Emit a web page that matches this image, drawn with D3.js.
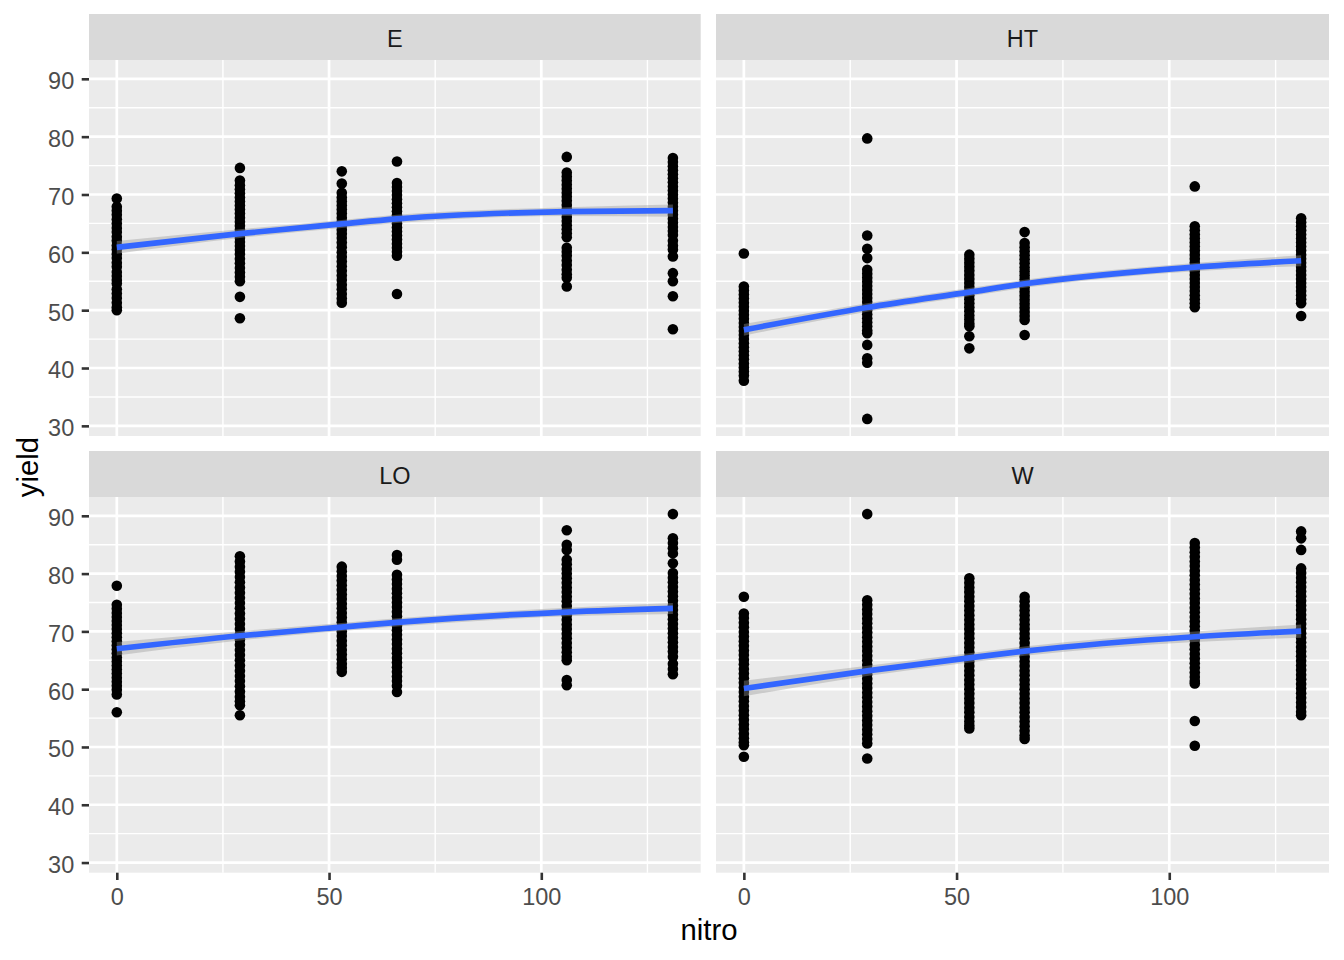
<!DOCTYPE html>
<html>
<head>
<meta charset="utf-8">
<script src="https://cdn.jsdelivr.net/npm/d3@7"></script>
<style>
  html, body { margin: 0; padding: 0; background: #ffffff; }
  svg { display: block; }
  text { font-family: "Liberation Sans", Arial, sans-serif; }
</style>
</head>
<body>
<svg id="chart" width="1344" height="960"></svg>
<script>
// ---------------- data ----------------
const panels = ["E", "HT", "LO", "W"];
const nitroLevels = [0, 29, 53, 66, 106, 131];
const xTicks = [0, 50, 100];
const xMinor = [25, 75, 125];
const yTicks = [30, 40, 50, 60, 70, 80, 90];
const yMinor = [35, 45, 55, 65, 75, 85];

// yields by nitro level (one list per level: 0, 29, 53, 66, 106, 131)
const yieldE = [
  [69.3, 67.9, 67.2, 66.5, 65.7, 65.0, 64.2, 63.5, 62.7, 62.0, 61.2, 60.5, 59.7, 59.0, 58.2, 57.5, 56.6, 55.9, 55.2, 54.6, 53.6, 52.9, 52.1, 51.3, 50.5, 50.0],
  [74.6, 72.4, 71.6, 70.9, 70.2, 69.5, 68.8, 68.1, 67.4, 66.7, 66.0, 65.3, 64.6, 63.9, 63.2, 62.5, 61.8, 61.1, 60.4, 59.7, 58.9, 58.1, 57.3, 56.5, 55.8, 55.0, 52.3, 48.6],
  [74.0, 71.9, 70.3, 69.5, 68.8, 68.1, 67.4, 66.7, 66.0, 65.3, 64.6, 63.9, 63.2, 62.5, 61.7, 60.9, 60.0, 59.2, 58.4, 57.6, 56.8, 56.0, 55.2, 54.4, 53.6, 52.8, 52.0, 51.3],
  [75.7, 72.0, 71.3, 70.6, 69.9, 69.2, 68.5, 67.8, 67.1, 66.4, 65.7, 65.0, 64.3, 63.6, 62.9, 62.2, 61.5, 60.8, 60.1, 59.4, 52.8],
  [76.5, 73.8, 73.1, 72.4, 71.7, 71.0, 70.3, 69.6, 68.9, 68.2, 67.5, 66.8, 66.1, 65.4, 64.7, 64.0, 63.3, 62.6, 60.8, 60.1, 59.4, 58.6, 57.8, 57.0, 56.2, 55.6, 54.1],
  [76.3, 75.6, 74.9, 74.2, 73.5, 72.8, 72.1, 71.4, 70.7, 70.0, 69.3, 68.6, 67.9, 67.2, 66.5, 65.8, 65.1, 64.4, 63.7, 63.0, 62.0, 61.2, 60.5, 59.3, 56.4, 55.0, 52.4, 46.7]
];
const yieldHT = [
  [59.8, 54.1, 53.4, 52.7, 52.0, 51.3, 50.6, 49.9, 49.2, 48.5, 47.8, 47.1, 46.4, 45.7, 45.0, 44.3, 43.6, 42.9, 42.2, 41.5, 40.8, 40.1, 39.4, 38.7, 37.8],
  [79.7, 62.9, 60.6, 59.0, 57.0, 56.3, 55.6, 54.9, 54.2, 53.5, 52.8, 52.1, 51.4, 50.7, 50.0, 49.3, 48.6, 47.9, 47.2, 46.5, 46.0, 44.0, 41.7, 40.9, 31.2],
  [59.6, 58.9, 58.2, 57.5, 56.8, 56.1, 55.4, 54.7, 54.0, 53.3, 52.6, 51.9, 51.2, 50.5, 49.8, 49.1, 48.4, 47.7, 47.2, 45.5, 43.4],
  [63.5, 61.6, 60.9, 60.2, 59.5, 58.8, 58.1, 57.4, 56.7, 56.0, 55.3, 54.6, 53.9, 53.2, 52.5, 51.8, 51.1, 50.4, 49.7, 49.0, 48.3, 45.7],
  [71.4, 64.5, 63.8, 63.1, 62.4, 61.7, 61.0, 60.3, 59.6, 58.9, 58.2, 57.5, 56.8, 56.1, 55.4, 54.7, 54.0, 53.3, 52.6, 51.9, 51.2, 50.5],
  [65.9, 65.2, 64.5, 63.8, 63.1, 62.4, 61.7, 61.0, 60.3, 59.6, 58.9, 58.2, 57.5, 56.8, 56.1, 55.4, 54.7, 54.0, 53.3, 52.6, 51.9, 51.2, 49.0]
];
const yieldLO = [
  [77.9, 74.6, 73.9, 73.2, 72.5, 71.8, 71.1, 70.4, 69.7, 69.0, 68.3, 67.6, 66.9, 66.2, 65.5, 64.8, 64.1, 63.4, 62.7, 62.0, 61.3, 60.6, 59.9, 59.1, 56.0],
  [83.0, 82.1, 81.2, 80.3, 79.4, 78.5, 77.6, 76.7, 75.8, 74.9, 74.0, 73.1, 72.2, 71.3, 70.4, 69.5, 68.6, 67.7, 66.8, 65.9, 65.0, 64.1, 63.2, 62.3, 61.4, 60.5, 59.6, 58.7, 57.9, 57.2, 55.5],
  [81.2, 80.4, 79.6, 78.8, 78.0, 77.2, 76.4, 75.6, 74.8, 74.0, 73.2, 72.4, 71.6, 70.8, 70.0, 69.2, 68.4, 67.6, 66.8, 66.0, 65.2, 64.4, 63.7, 63.0],
  [83.2, 82.4, 79.8, 79.0, 78.2, 77.4, 76.6, 75.8, 75.0, 74.2, 73.4, 72.6, 71.8, 71.0, 70.2, 69.4, 68.6, 67.8, 67.0, 66.2, 65.4, 64.6, 63.8, 63.0, 62.2, 61.4, 60.6, 59.5],
  [87.5, 85.0, 84.1, 82.4, 81.6, 80.8, 80.0, 79.2, 78.4, 77.6, 76.8, 76.0, 75.2, 74.4, 73.6, 72.8, 72.0, 71.2, 70.4, 69.6, 68.8, 68.0, 67.2, 66.4, 65.6, 65.0, 61.6, 60.7],
  [90.3, 86.1, 85.3, 84.4, 83.5, 81.8, 80.1, 79.3, 78.5, 77.7, 76.9, 76.1, 75.3, 74.5, 73.7, 72.9, 72.1, 71.3, 70.5, 69.7, 68.9, 68.1, 67.3, 66.5, 65.6, 64.4, 63.5, 62.6]
];
const yieldW = [
  [76.0, 73.1, 72.3, 71.5, 70.7, 69.9, 69.1, 68.3, 67.5, 66.7, 65.9, 65.1, 64.3, 63.5, 62.7, 61.9, 61.1, 60.3, 59.5, 58.7, 57.9, 57.1, 56.3, 55.5, 54.7, 53.9, 53.1, 52.3, 51.5, 50.8, 50.3, 48.3],
  [90.3, 75.4, 74.6, 73.8, 73.0, 72.2, 71.4, 70.6, 69.8, 69.0, 68.2, 67.4, 66.6, 65.8, 65.0, 64.2, 63.4, 62.6, 61.8, 61.0, 60.2, 59.4, 58.6, 57.8, 57.0, 56.2, 55.4, 54.6, 53.8, 53.0, 52.2, 51.4, 50.6, 48.0],
  [79.2, 78.4, 77.6, 76.8, 76.0, 75.2, 74.4, 73.6, 72.8, 72.0, 71.2, 70.4, 69.6, 68.8, 68.0, 67.2, 66.4, 65.6, 64.8, 64.0, 63.2, 62.4, 61.6, 60.8, 60.0, 59.2, 58.4, 57.6, 56.8, 56.0, 55.2, 54.4, 53.7, 53.2],
  [76.0, 75.2, 74.4, 73.6, 72.8, 72.0, 71.2, 70.4, 69.6, 68.8, 68.0, 67.2, 66.4, 65.6, 64.8, 64.0, 63.2, 62.4, 61.6, 60.8, 60.0, 59.2, 58.4, 57.6, 56.8, 56.0, 55.2, 54.4, 53.6, 52.8, 52.0, 51.4],
  [85.3, 84.5, 83.7, 82.9, 82.1, 81.3, 80.5, 79.7, 78.9, 78.1, 77.3, 76.5, 75.7, 74.9, 74.1, 73.3, 72.5, 71.7, 70.9, 70.1, 69.3, 68.5, 67.7, 66.9, 66.1, 65.3, 64.5, 63.7, 62.9, 62.1, 61.4, 61.0, 54.5, 50.2],
  [87.3, 86.1, 84.1, 80.9, 80.1, 79.3, 78.5, 77.7, 76.9, 76.1, 75.3, 74.5, 73.7, 72.9, 72.1, 71.3, 70.5, 69.7, 68.9, 68.1, 67.3, 66.5, 65.7, 64.9, 64.1, 63.3, 62.5, 61.7, 60.9, 60.1, 59.3, 58.5, 57.7, 56.9, 56.1, 55.5]
];

// smoother fit and half-width of the confidence band at each nitro level
const fitE  = [60.87, 63.24, 64.91, 65.78, 67.05, 67.22];
const fitHT = [46.59, 50.46, 53.12, 54.56, 57.45, 58.55];
const fitLO = [67.00, 69.24, 70.75, 71.56, 73.35, 73.98];
const fitW  = [60.11, 63.17, 65.43, 66.58, 69.07, 70.05];
const seE  = [1.1, 0.75, 0.7, 0.7, 0.75, 1.05];
const seHT = [1.0, 0.75, 0.7, 0.7, 0.7, 0.95];
const seLO = [1.15, 0.8, 0.7, 0.7, 0.75, 0.95];
const seW  = [1.35, 0.9, 0.8, 0.8, 0.9, 1.15];

const yieldByPanel = { E: yieldE, HT: yieldHT, LO: yieldLO, W: yieldW };
const fitByPanel = { E: fitE, HT: fitHT, LO: fitLO, W: fitW };
const seByPanel = { E: seE, HT: seHT, LO: seLO, W: seW };

// ---------------- layout ----------------
const colX = [[89, 700.7], [716, 1329]];
const rowY = [[60, 436], [497, 872.7]];
const stripH = 46;

const allY = panels.flatMap(p => yieldByPanel[p].flat());
const yMin = d3.min(allY), yMax = d3.max(allY);
const yPad = (yMax - yMin) * 0.05;
const xMinV = d3.min(nitroLevels), xMaxV = d3.max(nitroLevels);
const xPad = (xMaxV - xMinV) * 0.05;

const svg = d3.select("#chart");
svg.append("rect").attr("width", 1344).attr("height", 960).attr("fill", "#ffffff");

panels.forEach((p, i) => {
  const c = i % 2, r = Math.floor(i / 2);
  const [x0, x1] = colX[c];
  const [y0, y1] = rowY[r];
  const x = d3.scaleLinear().domain([xMinV - xPad, xMaxV + xPad]).range([x0, x1]);
  const y = d3.scaleLinear().domain([yMin - yPad, yMax + yPad]).range([y1, y0]);

  const g = svg.append("g");
  // strip
  g.append("rect").attr("x", x0).attr("y", y0 - stripH).attr("width", x1 - x0).attr("height", stripH)
    .attr("fill", "#D9D9D9");
  g.append("text").attr("x", (x0 + x1) / 2).attr("y", y0 - stripH / 2 + 9.8)
    .attr("text-anchor", "middle").attr("font-size", 23.5).attr("fill", "#1A1A1A").text(p);

  // panel background
  g.append("rect").attr("x", x0).attr("y", y0).attr("width", x1 - x0).attr("height", y1 - y0)
    .attr("fill", "#EBEBEB");

  // grid
  g.selectAll(".ymin").data(yMinor).join("line")
    .attr("x1", x0).attr("x2", x1).attr("y1", d => y(d)).attr("y2", d => y(d))
    .attr("stroke", "#ffffff").attr("stroke-width", 1.4);
  g.selectAll(".xmin").data(xMinor).join("line")
    .attr("y1", y0).attr("y2", y1).attr("x1", d => x(d)).attr("x2", d => x(d))
    .attr("stroke", "#ffffff").attr("stroke-width", 1.4);
  g.selectAll(".ymaj").data(yTicks).join("line")
    .attr("x1", x0).attr("x2", x1).attr("y1", d => y(d)).attr("y2", d => y(d))
    .attr("stroke", "#ffffff").attr("stroke-width", 2.7);
  g.selectAll(".xmaj").data(xTicks).join("line")
    .attr("y1", y0).attr("y2", y1).attr("x1", d => x(d)).attr("x2", d => x(d))
    .attr("stroke", "#ffffff").attr("stroke-width", 2.7);

  // points
  const pts = [];
  yieldByPanel[p].forEach((vals, k) => vals.forEach(v => pts.push({ n: nitroLevels[k], v })));
  g.append("g").selectAll("circle").data(pts).join("circle")
    .attr("cx", d => x(d.n)).attr("cy", d => y(d.v)).attr("r", 5.3).attr("fill", "#000000");

  // smoother
  const fit = fitByPanel[p], se = seByPanel[p];
  const band = nitroLevels.map((n, k) => ({ n, f: fit[k], lo: fit[k] - se[k], hi: fit[k] + se[k] }));
  g.append("path").datum(band)
    .attr("d", d3.area().x(d => x(d.n)).y0(d => y(d.lo)).y1(d => y(d.hi)).curve(d3.curveMonotoneX))
    .attr("fill", "#999999").attr("fill-opacity", 0.4);
  g.append("path").datum(band)
    .attr("d", d3.line().x(d => x(d.n)).y(d => y(d.f)).curve(d3.curveMonotoneX))
    .attr("fill", "none").attr("stroke", "#3366FF").attr("stroke-width", 5.7);

  // axes
  if (c === 0) {
    const ay = g.append("g").attr("transform", `translate(${x0},0)`)
      .call(d3.axisLeft(y).tickValues(yTicks).tickSize(7.3).tickPadding(7.5));
    ay.select(".domain").remove();
    ay.selectAll(".tick line").attr("stroke", "#333333").attr("stroke-width", 2.6);
    ay.selectAll(".tick text").attr("font-size", 23.5).attr("fill", "#4D4D4D")
      .attr("font-family", "Liberation Sans, Arial, sans-serif").attr("dy", "0.42em");
  }
  if (r === 1) {
    const ax = g.append("g").attr("transform", `translate(0,${y1})`)
      .call(d3.axisBottom(x).tickValues(xTicks).tickSize(7.3).tickPadding(8.5));
    ax.select(".domain").remove();
    ax.selectAll(".tick line").attr("stroke", "#333333").attr("stroke-width", 2.6);
    ax.selectAll(".tick text").attr("font-size", 23.5).attr("fill", "#4D4D4D")
      .attr("font-family", "Liberation Sans, Arial, sans-serif");
  }
});

// axis titles
svg.append("text").attr("x", (colX[0][0] + colX[1][1]) / 2).attr("y", 940)
  .attr("text-anchor", "middle").attr("font-size", 29.3).attr("fill", "#000000").text("nitro");
svg.append("text").attr("transform", "translate(38,467) rotate(-90)")
  .attr("text-anchor", "middle").attr("font-size", 29.3).attr("fill", "#000000").text("yield");
</script>
</body>
</html>
